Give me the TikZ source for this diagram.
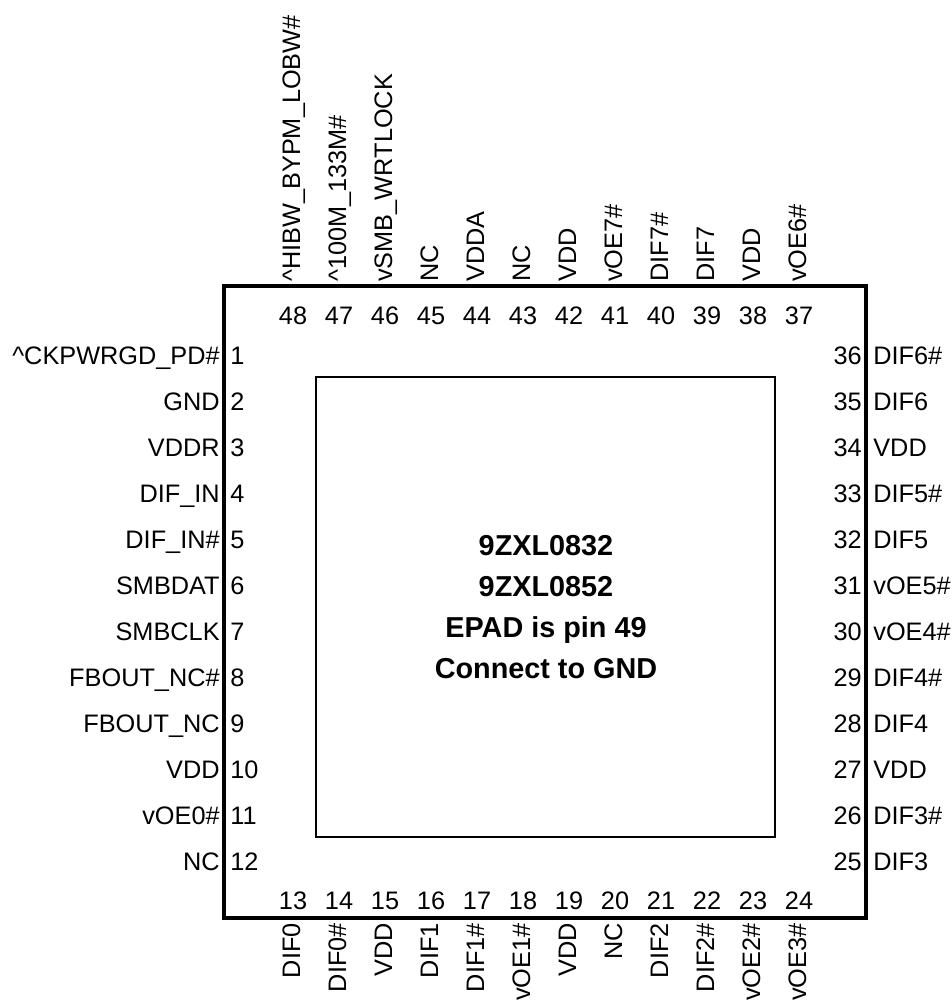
\documentclass[tikz,border=0pt]{standalone}
\usepackage{fontspec}
\setmainfont{Liberation Sans}
\tikzset{
  pinfont/.style={font=\fontsize{14.4}{16}\selectfont,inner sep=0pt,text height=10.3pt,text depth=0pt},
  leftname/.style={pinfont,anchor=east},
  rightname/.style={pinfont,anchor=west},
  topname/.style={pinfont,rotate=90,anchor=west},
  botname/.style={pinfont,rotate=90,anchor=east},
  pinnum/.style={pinfont},
  leftnum/.style={pinfont,anchor=west},
  rightnum/.style={pinfont,anchor=east}
}
\begin{document}
\begin{tikzpicture}[x=0.02cm,y=-0.02cm]
      \useasboundingbox (0,0) rectangle (952,1000);

      \node (chip) at (545,602) [draw,line width=2.5pt,minimum width=12.84cm,minimum height=12.64cm] {};
      \node (pad) at (545.5,607) [draw,line width=1.3pt,minimum width=9.18cm,minimum height=9.2cm] {};
      \node (partname) at (546,607) [font=\fontsize{16.4}{23.2}\selectfont\bfseries,align=center] {9ZXL0832\\9ZXL0852\\EPAD is pin 49\\Connect to GND};

      \begin{scope}[every node/.style={leftname}]
        \node (n1)  at (220,355) {\char94 CKPWRGD\_PD\#};
        \node (n2)  at (220,401) {GND};
        \node (n3)  at (220,447) {VDDR};
        \node (n4)  at (220,493) {DIF\_IN};
        \node (n5)  at (220,539) {DIF\_IN\#};
        \node (n6)  at (220,585) {SMBDAT};
        \node (n7)  at (220,631) {SMBCLK};
        \node (n8)  at (220,677) {FBOUT\_NC\#};
        \node (n9)  at (220,723) {FBOUT\_NC};
        \node (n10) at (220,769) {VDD};
        \node (n11) at (220,815) {vOE0\#};
        \node (n12) at (220,861) {NC};
      \end{scope}

      \begin{scope}[every node/.style={leftnum}]
        \node (p1)  at (230,355) {1};
        \node (p2)  at (230,401) {2};
        \node (p3)  at (230,447) {3};
        \node (p4)  at (230,493) {4};
        \node (p5)  at (230,539) {5};
        \node (p6)  at (230,585) {6};
        \node (p7)  at (230,631) {7};
        \node (p8)  at (230,677) {8};
        \node (p9)  at (230,723) {9};
        \node (p10) at (230,769) {10};
        \node (p11) at (230,815) {11};
        \node (p12) at (230,861) {12};
      \end{scope}

      \begin{scope}[every node/.style={botname}]
        \node (n13) at (291,923) {DIF0};
        \node (n14) at (337,923) {DIF0\#};
        \node (n15) at (383,923) {VDD};
        \node (n16) at (429,923) {DIF1};
        \node (n17) at (475,923) {DIF1\#};
        \node (n18) at (521,923) {vOE1\#};
        \node (n19) at (567,923) {VDD};
        \node (n20) at (613,923) {NC};
        \node (n21) at (659,923) {DIF2};
        \node (n22) at (705,923) {DIF2\#};
        \node (n23) at (751,923) {vOE2\#};
        \node (n24) at (797,923) {vOE3\#};
      \end{scope}

      \begin{scope}[every node/.style={pinnum}]
        \node (p13) at (293,900) {13};
        \node (p14) at (339,900) {14};
        \node (p15) at (385,900) {15};
        \node (p16) at (431,900) {16};
        \node (p17) at (477,900) {17};
        \node (p18) at (523,900) {18};
        \node (p19) at (569,900) {19};
        \node (p20) at (615,900) {20};
        \node (p21) at (661,900) {21};
        \node (p22) at (707,900) {22};
        \node (p23) at (753,900) {23};
        \node (p24) at (799,900) {24};
      \end{scope}

      \begin{scope}[every node/.style={rightname}]
        \node (n25) at (873,861) {DIF3};
        \node (n26) at (873,815) {DIF3\#};
        \node (n27) at (873,769) {VDD};
        \node (n28) at (873,723) {DIF4};
        \node (n29) at (873,677) {DIF4\#};
        \node (n30) at (873,631) {vOE4\#};
        \node (n31) at (873,585) {vOE5\#};
        \node (n32) at (873,539) {DIF5};
        \node (n33) at (873,493) {DIF5\#};
        \node (n34) at (873,447) {VDD};
        \node (n35) at (873,401) {DIF6};
        \node (n36) at (873,355) {DIF6\#};
      \end{scope}

      \begin{scope}[every node/.style={rightnum}]
        \node (p25) at (862,861) {25};
        \node (p26) at (862,815) {26};
        \node (p27) at (862,769) {27};
        \node (p28) at (862,723) {28};
        \node (p29) at (862,677) {29};
        \node (p30) at (862,631) {30};
        \node (p31) at (862,585) {31};
        \node (p32) at (862,539) {32};
        \node (p33) at (862,493) {33};
        \node (p34) at (862,447) {34};
        \node (p35) at (862,401) {35};
        \node (p36) at (862,355) {36};
      \end{scope}

      \begin{scope}[every node/.style={topname}]
        \node (n37) at (797,282) {vOE6\#};
        \node (n38) at (751,282) {VDD};
        \node (n39) at (705,282) {DIF7};
        \node (n40) at (659,282) {DIF7\#};
        \node (n41) at (613,282) {vOE7\#};
        \node (n42) at (567,282) {VDD};
        \node (n43) at (521,282) {NC};
        \node (n44) at (475,282) {VDDA};
        \node (n45) at (429,282) {NC};
        \node (n46) at (383,282) {vSMB\_WRTLOCK};
        \node (n47) at (337,282) {\char94 100M\_133M\#};
        \node (n48) at (291,282) {\char94 HIBW\_BYPM\_LOBW\#};
      \end{scope}

      \begin{scope}[every node/.style={pinnum}]
        \node (p37) at (799,315) {37};
        \node (p38) at (753,315) {38};
        \node (p39) at (707,315) {39};
        \node (p40) at (661,315) {40};
        \node (p41) at (615,315) {41};
        \node (p42) at (569,315) {42};
        \node (p43) at (523,315) {43};
        \node (p44) at (477,315) {44};
        \node (p45) at (431,315) {45};
        \node (p46) at (385,315) {46};
        \node (p47) at (339,315) {47};
        \node (p48) at (293,315) {48};
      \end{scope}

    \end{tikzpicture}
\end{document}
